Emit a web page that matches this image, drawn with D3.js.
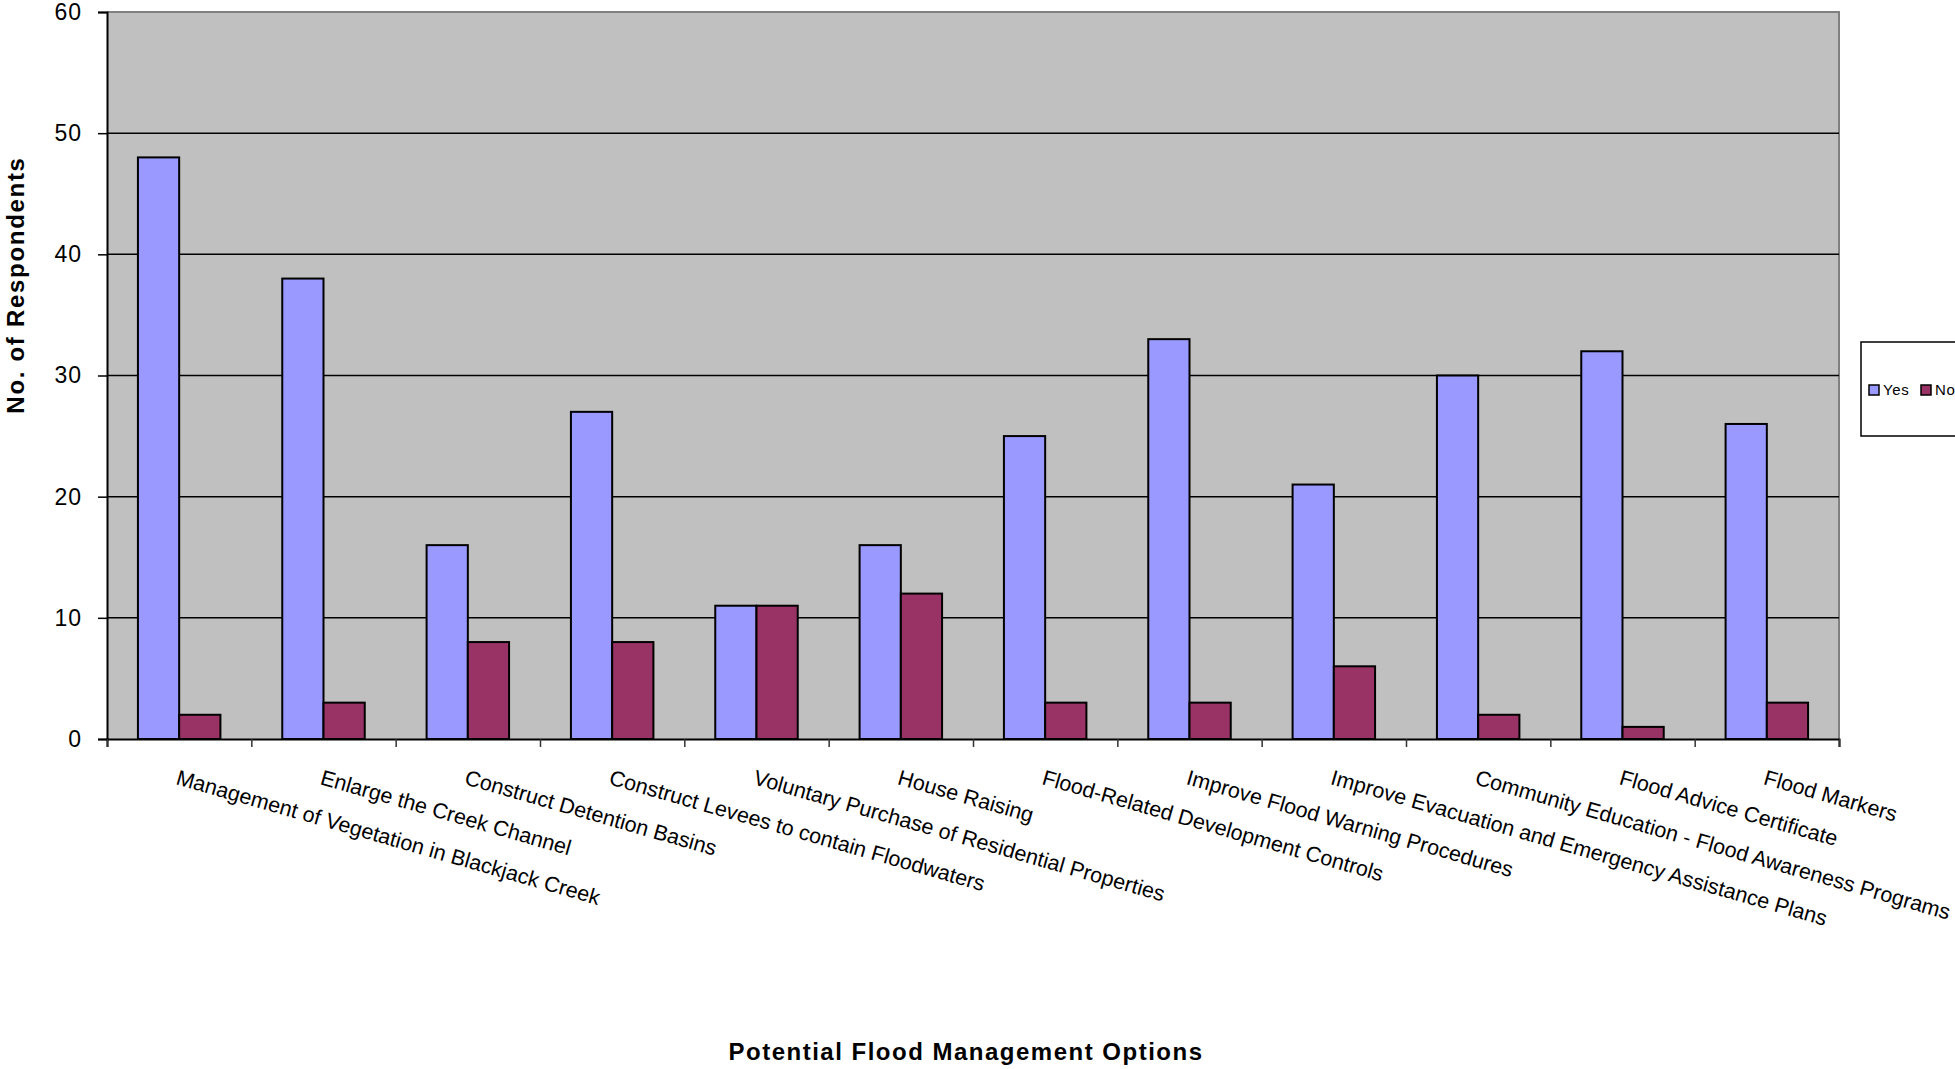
<!DOCTYPE html>
<html>
<head>
<meta charset="utf-8">
<script src="https://cdn.jsdelivr.net/npm/d3@7"></script>
<style>
  body { margin: 0; background: #fff; }
  text { font-family: Arial, "Liberation Sans", sans-serif; }
</style>
</head>
<body>
<script>
// Chart data
const categories = [
  "Management of Vegetation in Blackjack Creek",
  "Enlarge the Creek Channel",
  "Construct Detention Basins",
  "Construct Levees to contain Floodwaters",
  "Voluntary Purchase of Residential Properties",
  "House Raising",
  "Flood-Related Development Controls",
  "Improve Flood Warning Procedures",
  "Improve Evacuation and Emergency Assistance Plans",
  "Community Education - Flood Awareness Programs",
  "Flood Advice Certificate",
  "Flood Markers"
];
const seriesNames = ["Yes", "No"];
const yesValues = [48, 38, 16, 27, 11, 16, 25, 33, 21, 30, 32, 26];
const noValues = [2, 3, 8, 8, 11, 12, 3, 3, 6, 2, 1, 3];
const yTicks = [0, 10, 20, 30, 40, 50, 60];
const colors = { Yes: "#9999FF", No: "#993366" };

const W = 1955, H = 1069;
const margin = { top: 12, left: 107, right: W - 1839, bottom: H - 739 };
const width = W - margin.left - margin.right;
const height = H - margin.top - margin.bottom;

const svg = d3.select("body").append("svg")
  .attr("width", W)
  .attr("height", H);

const g = svg.append("g").attr("transform", `translate(${margin.left},${margin.top})`);

// Scales
const x0 = d3.scaleBand().domain(categories).range([0, width]).padding(0);
const x1 = d3.scaleBand().domain(seriesNames).range([0, x0.bandwidth()])
  .paddingInner(0).paddingOuter(0.75);
const y = d3.scaleLinear().domain([0, 60]).range([height, 0]);
const xb = d3.scaleLinear().domain([0, categories.length]).range([0, width]);

// Plot area background
g.append("rect")
  .attr("width", width)
  .attr("height", height)
  .attr("fill", "#C0C0C0");

// top / right border in gray
g.append("path")
  .attr("d", `M0,0H${width}V${height}`)
  .attr("fill", "none")
  .attr("stroke", "#808080")
  .attr("stroke-width", 2);

// Gridlines
g.append("g")
  .selectAll("line")
  .data(yTicks.filter(d => d > 0 && d < 60))
  .join("line")
  .attr("x1", 0)
  .attr("x2", width)
  .attr("y1", d => y(d))
  .attr("y2", d => y(d))
  .attr("stroke", "#000")
  .attr("stroke-width", 1.5);

// Bars
const data = categories.map((c, i) => ({ cat: c, Yes: yesValues[i], No: noValues[i] }));
const groups = g.append("g")
  .selectAll("g")
  .data(data)
  .join("g")
  .attr("transform", d => `translate(${x0(d.cat)},0)`);

groups.selectAll("rect")
  .data(d => seriesNames.map(k => ({ key: k, value: d[k] })))
  .join("rect")
  .attr("x", d => x1(d.key))
  .attr("y", d => y(d.value))
  .attr("width", x1.bandwidth())
  .attr("height", d => height - y(d.value))
  .attr("fill", d => colors[d.key])
  .attr("stroke", "#000")
  .attr("stroke-width", 2);

// Y axis
const yaxis = d3.axisLeft(y).tickValues(yTicks).tickSize(9).tickPadding(16);
const g_yaxis = g.append("g").call(yaxis);
g_yaxis.select(".domain").attr("stroke", "#000").attr("stroke-width", 2);
g_yaxis.selectAll(".tick line").attr("stroke", "#000").attr("stroke-width", 1.5);
g_yaxis.selectAll(".tick text")
  .attr("font-size", 23)
  .attr("letter-spacing", 1)
  .attr("fill", "#000")
  .style("font-family", "Arial, 'Liberation Sans', sans-serif");

// X axis (ticks between categories)
const xaxis = d3.axisBottom(xb).ticks(categories.length).tickFormat("").tickSize(8).tickSizeOuter(8);
const g_xaxis = g.append("g").attr("transform", `translate(0,${height})`).call(xaxis);
g_xaxis.select(".domain").attr("stroke", "#000").attr("stroke-width", 2);
g_xaxis.selectAll(".tick line").attr("stroke", "#333").attr("stroke-width", 1.5);

// Category labels, rotated
g.append("g")
  .selectAll("text")
  .data(categories)
  .join("text")
  .attr("transform", d => `translate(${x0(d) + x0.bandwidth() / 2},${height + 30}) rotate(16)`)
  .attr("dy", "0.72em")
  .attr("font-size", 21.5)
  .attr("fill", "#000")
  .text(d => d);

// Axis titles
svg.append("text")
  .attr("transform", "translate(24,285) rotate(-90)")
  .attr("text-anchor", "middle")
  .attr("font-size", 24)
  .attr("letter-spacing", 1.7)
  .attr("font-weight", "bold")
  .text("No. of Respondents");

svg.append("text")
  .attr("x", 966)
  .attr("y", 1060)
  .attr("text-anchor", "middle")
  .attr("font-size", 24)
  .attr("letter-spacing", 1.5)
  .attr("font-weight", "bold")
  .text("Potential Flood Management Options");

// Legend
const legend = svg.append("g").attr("transform", "translate(1861,342)");
legend.append("rect")
  .attr("width", 200)
  .attr("height", 94)
  .attr("fill", "#fff")
  .attr("stroke", "#000")
  .attr("stroke-width", 1.5);

const legendX = d3.scaleOrdinal().domain(seriesNames).range([8, 60]);
const items = legend.selectAll("g.item")
  .data(seriesNames)
  .join("g")
  .attr("class", "item")
  .attr("transform", d => `translate(${legendX(d)},43)`);
items.append("rect")
  .attr("width", 10)
  .attr("height", 10)
  .attr("fill", d => colors[d])
  .attr("stroke", "#000")
  .attr("stroke-width", 1.5);
items.append("text")
  .attr("x", 14)
  .attr("y", 10)
  .attr("font-size", 15)
  .attr("letter-spacing", 0.6)
  .attr("fill", "#000")
  .text(d => d);
</script>
</body>
</html>
